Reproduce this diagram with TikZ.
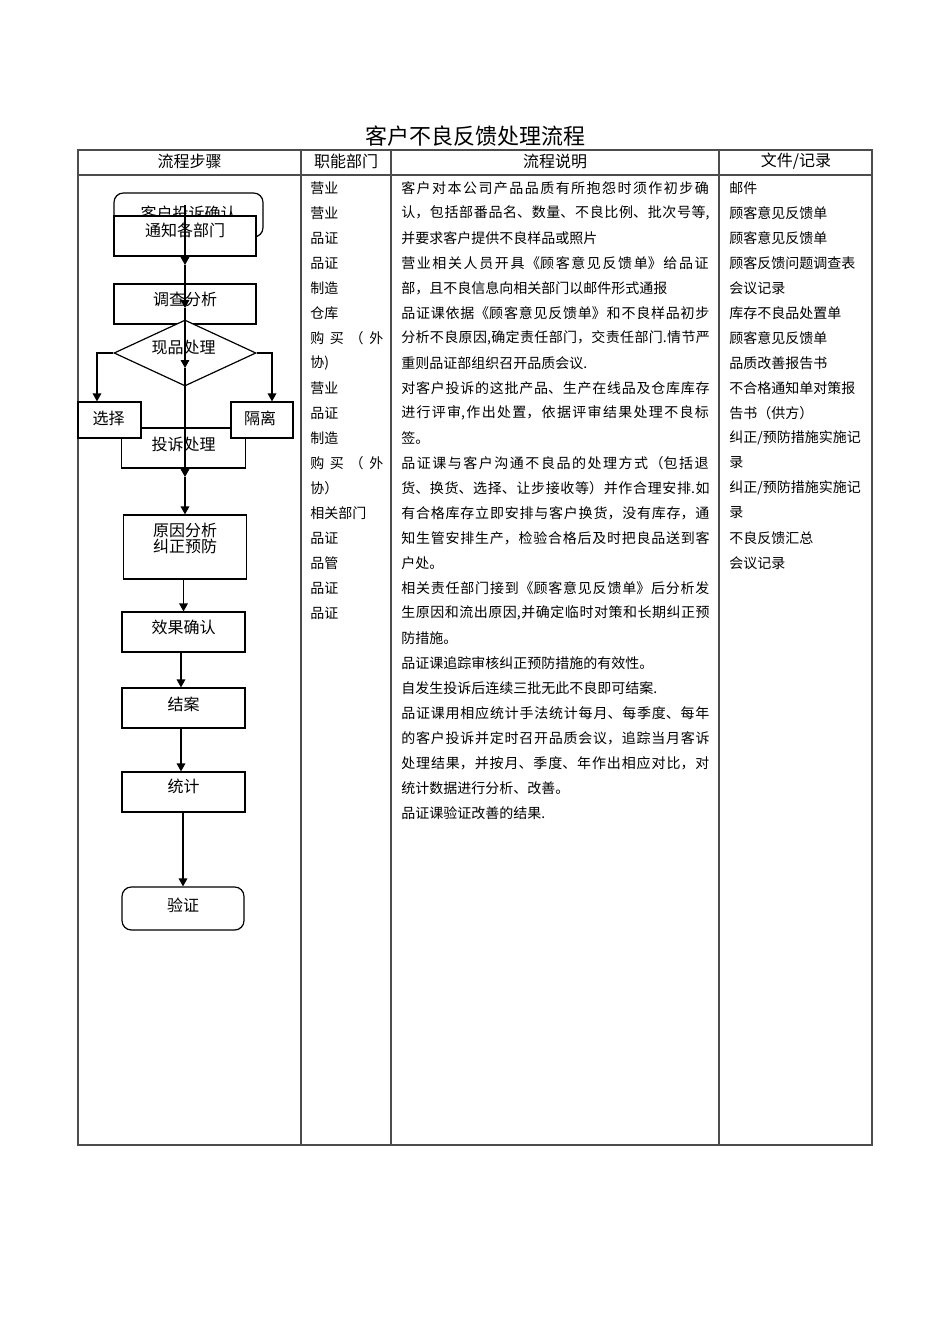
\documentclass[tikz,border=0pt]{standalone}
\usepackage{fontspec}
\setmainfont{Noto Sans CJK SC}
\usetikzlibrary{arrows.meta,shapes.geometric}
\newdimen\pxl \pxl=0.75pt
\XeTeXlinebreaklocale "zh"
\newcommand\J{\XeTeXlinebreakskip=0pt plus 1fil\relax\parfillskip=0pt\relax}
\newcommand\Sp[2]{\hbox to #1\pxl{#2}}
\tikzset{
  tbl/.style={draw=black!70, line width=0.8pt},
  fbox/.style={draw=black, fill=white, line width=0.9pt, inner sep=0pt},
  lab/.style={inner sep=0pt, font=\fontsize{12pt}{12pt}\selectfont},
  arr/.style={draw=black, line width=0.9pt, -{Triangle[length=6pt,width=6.5pt]}},
  body/.style={anchor=west, inner sep=0pt, font=\fontsize{10.5pt}{12pt}\selectfont},
  jb/.style={body, text width=309\pxl, align=justify},
  hdr/.style={inner sep=0pt, font=\fontsize{12pt}{13pt}\selectfont},
}
\begin{document}
\begin{tikzpicture}[x=0.75pt, y=-0.75pt]
\useasboundingbox (0,0) rectangle (950,1344);

% title
\node[inner sep=0pt, font=\fontsize{16.5pt}{18pt}\selectfont] (title) at (475,136) {客户不良反馈处理流程};

% table
\draw[tbl] (78,150) rectangle (872,1145);
\draw[tbl] (78,175) -- (872,175);
\draw[tbl] (301,150) -- (301,1145);
\draw[tbl] (391,150) -- (391,1145);
\draw[tbl] (719,150) -- (719,1145);

\node[hdr] (h1) at (189.5,161) {流程步骤};
\node[hdr] (h2) at (346,161) {职能部门};
\node[hdr] (h3) at (555,161) {流程说明};
\node[hdr] (h4) at (796,161) {文件/记录};

% flowchart
\node[fbox, rounded corners=7pt, minimum width=149\pxl, minimum height=44\pxl,
  label={[lab,yshift=2\pxl]center:客户投诉确认}] (cust) at (188.5,215) {};
\node[fbox, minimum width=142\pxl, minimum height=40\pxl,
  label={[lab,yshift=5.5\pxl]center:通知各部门}] (notify) at (185,236) {};
\node[fbox, minimum width=142\pxl, minimum height=40\pxl,
  label={[lab,yshift=4.5\pxl]center:调查分析}] (invest) at (185,304) {};
\node[fbox, diamond, minimum width=142\pxl, minimum height=66\pxl,
  label={[lab,xshift=-1.5\pxl,yshift=5.5\pxl]center:现品处理}] (dia) at (185,353) {};
\node[fbox, minimum width=124\pxl, minimum height=40\pxl,
  label={[lab,yshift=4\pxl]center:投诉处理}] (complaint) at (183.5,448) {};
\node[fbox, minimum width=63\pxl, minimum height=36\pxl,
  label={[lab,xshift=-1\pxl,yshift=1.5\pxl]center:选择}] (sel) at (109.5,420) {};
\node[fbox, minimum width=62\pxl, minimum height=36\pxl,
  label={[lab,xshift=-2\pxl,yshift=1.5\pxl]center:隔离}] (iso) at (262,420) {};

\draw[arr] (dia.west) -| ([xshift=-12.5\pxl]sel.north);
\draw[arr] (dia.east) -| ([xshift=10\pxl]iso.north);

\node[fbox, minimum width=123\pxl, minimum height=64\pxl,
  label={[lab,align=center,yshift=9\pxl]center:原因分析\\纠正预防}] (cause) at (185,547) {};
\node[fbox, minimum width=123\pxl, minimum height=40\pxl,
  label={[lab,yshift=4.5\pxl]center:效果确认}] (effect) at (183.5,632) {};
\node[fbox, minimum width=123\pxl, minimum height=40\pxl,
  label={[lab,yshift=4\pxl]center:结案}] (close) at (183.5,708) {};
\node[fbox, minimum width=123\pxl, minimum height=40\pxl,
  label={[lab,yshift=5.5\pxl]center:统计}] (stats) at (183.5,792) {};
\node[fbox, rounded corners=7pt, minimum width=122\pxl, minimum height=43\pxl,
  label={[lab,yshift=3\pxl]center:验证}] (verify) at (183,908.5) {};

% main vertical line
\coordinate (m0) at (185,205);
\coordinate (m1) at (185,265);
\coordinate (m2) at (185,308);
\coordinate (m3) at (185,368);
\coordinate (m4) at (185,477);
\draw[arr] (m0) -- (m1);
\draw[arr] (m1) -- (m2);
\draw[arr] (m2) -- (m3);
\draw[arr] (m3) -- (m4);
\draw[arr] (m4) -- (cause.north);

\draw[arr] (effect.north |- cause.south) -- (effect.north);
\draw[arr] ([xshift=-2.5\pxl]effect.south) -- ([xshift=-2.5\pxl]close.north);
\draw[arr] ([xshift=-2.5\pxl]close.south) -- ([xshift=-2.5\pxl]stats.north);
\draw[arr] (verify.north |- stats.south) -- (verify.north);

% column 2
\node[body] (d1) at (310,188) {营业};
\node[body] (d2) at (310,213) {营业};
\node[body] (d3) at (310,238) {品证};
\node[body] (d4) at (310,263) {品证};
\node[body] (d5) at (310,288) {制造};
\node[body] (d6) at (310,313) {仓库};
\node[body] (d7) at (310,338) {\Sp{73}{购\hfill 买\hfill （\hfill 外}};
\node[body] (d8) at (310,363) {协)};
\node[body] (d9) at (310,388) {营业};
\node[body] (d10) at (310,413) {品证};
\node[body] (d11) at (310,438) {制造};
\node[body] (d12) at (310,463) {\Sp{73}{购\hfill 买\hfill （\hfill 外}};
\node[body] (d13) at (310,488) {协）};
\node[body] (d14) at (310,513) {相关部门};
\node[body] (d15) at (310,538) {品证};
\node[body] (d16) at (310,563) {品管};
\node[body] (d17) at (310,588) {品证};
\node[body] (d18) at (310,613) {品证};

% column 3
\node[jb] (s1) at (401,188) {\J 客户对本公司产品品质有所抱怨时须作初步确};
\node[jb] (s2) at (401,213) {\J 认，包括部番品名、数量、不良比例、批次号等,};
\node[body] (s3) at (401,238) {并要求客户提供不良样品或照片};
\node[jb] (s4) at (401,263) {\J 营业相关人员开具《顾客意见反馈单》给品证};
\node[body] (s5) at (401,288) {部，且不良信息向相关部门以邮件形式通报};
\node[jb] (s6) at (401,313) {\J 品证课依据《顾客意见反馈单》和不良样品初步};
\node[jb] (s7) at (401,338) {\J 分析不良原因,确定责任部门，交责任部门.情节严};
\node[body] (s8) at (401,363) {重则品证部组织召开品质会议.};
\node[jb] (s9) at (401,388) {\J 对客户投诉的这批产品、生产在线品及仓库库存};
\node[jb] (s10) at (401,413) {\J 进行评审,作出处置，依据评审结果处理不良标};
\node[body] (s11) at (401,438) {签。};
\node[jb] (s12) at (401,463) {\J 品证课与客户沟通不良品的处理方式（包括退};
\node[jb] (s13) at (401,488) {\J 货、换货、选择、让步接收等）并作合理安排.如};
\node[jb] (s14) at (401,513) {\J 有合格库存立即安排与客户换货，没有库存，通};
\node[jb] (s15) at (401,538) {\J 知生管安排生产，检验合格后及时把良品送到客};
\node[body] (s16) at (401,563) {户处。};
\node[jb] (s17) at (401,588) {\J 相关责任部门接到《顾客意见反馈单》后分析发};
\node[jb] (s18) at (401,613) {\J 生原因和流出原因,并确定临时对策和长期纠正预};
\node[body] (s19) at (401,638) {防措施。};
\node[body] (s20) at (401,663) {品证课追踪审核纠正预防措施的有效性。};
\node[body] (s21) at (401,688) {自发生投诉后连续三批无此不良即可结案.};
\node[jb] (s22) at (401,713) {\J 品证课用相应统计手法统计每月、每季度、每年};
\node[jb] (s23) at (401,738) {\J 的客户投诉并定时召开品质会议，追踪当月客诉};
\node[jb] (s24) at (401,763) {\J 处理结果，并按月、季度、年作出相应对比，对};
\node[body] (s25) at (401,788) {统计数据进行分析、改善。};
\node[body] (s26) at (401,813) {品证课验证改善的结果.};

% column 4
\node[body] (r1) at (729,188) {邮件};
\node[body] (r2) at (729,213) {顾客意见反馈单};
\node[body] (r3) at (729,238) {顾客意见反馈单};
\node[body] (r4) at (729,263) {顾客反馈问题调查表};
\node[body] (r5) at (729,288) {会议记录};
\node[body] (r6) at (729,313) {库存不良品处置单};
\node[body] (r7) at (729,338) {顾客意见反馈单};
\node[body] (r8) at (729,363) {品质改善报告书};
\node[body] (r9) at (729,388) {不合格通知单对策报};
\node[body] (r10) at (729,413) {告书（供方）};
\node[body] (r11) at (729,438) {纠正/预防措施实施记};
\node[body] (r12) at (729,463) {录};
\node[body] (r13) at (729,488) {纠正/预防措施实施记};
\node[body] (r14) at (729,513) {录};
\node[body] (r15) at (729,538) {不良反馈汇总};
\node[body] (r16) at (729,563) {会议记录};
\end{tikzpicture}
\end{document}
